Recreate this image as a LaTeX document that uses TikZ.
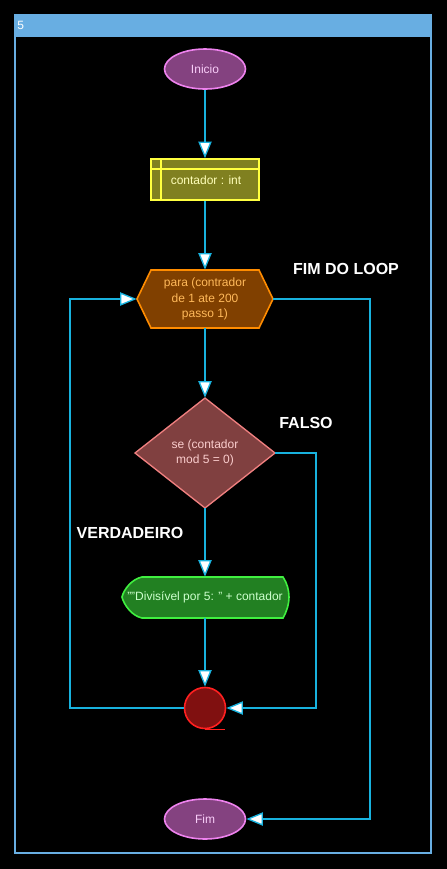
\documentclass[tikz,border=0pt]{standalone}
\usepackage{fontspec}
\setmainfont{Liberation Sans}
\usetikzlibrary{arrows.meta,shapes.geometric}
\definecolor{bar}{RGB}{104,174,226}
\definecolor{flowc}{RGB}{24,178,222}
\definecolor{termfill}{RGB}{132,66,128}
\definecolor{termdraw}{RGB}{238,130,238}
\definecolor{termtext}{RGB}{248,205,248}
\definecolor{declfill}{RGB}{128,128,32}
\definecolor{decldraw}{RGB}{255,255,64}
\definecolor{decltext}{RGB}{255,255,185}
\definecolor{loopfill}{RGB}{128,64,0}
\definecolor{loopdraw}{RGB}{255,140,0}
\definecolor{looptext}{RGB}{255,185,90}
\definecolor{condfill}{RGB}{128,64,64}
\definecolor{conddraw}{RGB}{240,128,128}
\definecolor{condtext}{RGB}{250,205,205}
\definecolor{outfill}{RGB}{34,128,34}
\definecolor{outdraw}{RGB}{64,240,64}
\definecolor{outtext}{RGB}{205,255,205}
\definecolor{connfill}{RGB}{128,16,16}
\definecolor{conndraw}{RGB}{255,32,32}
\tikzset{
  basefont/.style={font=\fontsize{9}{11.5}\selectfont, align=center, inner sep=0pt},
  term/.style={basefont, ellipse, draw=termdraw, fill=termfill, text=termtext, line width=1.2pt, minimum width=60.75pt, minimum height=30pt},
  declbox/.style={basefont, rectangle, draw=decldraw, fill=declfill, text=decltext, line width=1.2pt, minimum width=81pt, minimum height=30.75pt},
  shapetext/.style={basefont, rectangle},
  conn/.style={circle, draw=conndraw, fill=connfill, line width=1.2pt, minimum size=30.75pt, inner sep=0pt},
  flow/.style={draw=flowc, line width=1.5pt, -{Triangle[width=10pt,length=12.5pt,fill=white,line width=1pt]}},
  lbl/.style={font=\fontsize{12}{14}\selectfont\bfseries, text=white, inner sep=0pt},
}
\begin{document}
\begin{tikzpicture}[x=0.75pt,y=-0.75pt]
\fill[black] (0,0) rectangle (447,869);
\useasboundingbox (0,0) rectangle (447,869);
% frame
\fill[bar] (15,15) rectangle (431,37);
\draw[bar, line width=0.9pt] (15,15) rectangle (431,853);
\node[anchor=west, text=white, font=\fontsize{9}{11}\selectfont, inner sep=0pt] (title) at (17,25) {5};
% start
\node[term] (ini) at (205,69) {Inicio};
% declaration
\node[declbox] (dec) at (205,179.5) {};
\draw[decldraw, line width=1.2pt] (161,159) -- (161,200) (151,169) -- (259,169);
\node[shapetext, text=decltext] (dectext) at (206,180) {contador : int};
% loop hexagon
\draw[draw=loopdraw, fill=loopfill, line width=1.2pt] (137,299) -- (151,270) -- (259,270) -- (273,299) -- (259,328) -- (151,328) -- cycle;
\node[shapetext, text=looptext, minimum width=102pt, minimum height=43.5pt] (loop) at (205,299) {para (contrador\\de 1 ate 200\\passo 1)};
% condition diamond
\draw[draw=conddraw, fill=condfill, line width=1pt] (205,398) -- (275,453) -- (205,508) -- (135,453) -- cycle;
\node[shapetext, text=condtext, minimum width=105pt, minimum height=82.5pt] (cond) at (205,453) {se (contador\\mod 5 = 0)};
% output
\draw[draw=outdraw, fill=outfill, line width=1.2pt] (142,577) -- (283,577) .. controls (287,583) and (289,590) .. (289,597) .. controls (289,604) and (287,611) .. (283,618) -- (142,618) .. controls (132,616) and (124,605) .. (122,597) .. controls (124,589) and (132,579) .. (142,577) -- cycle;
\node[shapetext, text=outtext, minimum width=125.25pt, minimum height=30.75pt] (out) at (205,597.5) {""Divisível por 5: " + contador};
% connector
\node[conn] (c) at (205,708) {};
\draw[conndraw, line width=1.2pt] (c.south) -- ++(20,0);
% end
\node[term] (fim) at (205,819) {Fim};
% flows
\draw[flow] (ini) -- (dec);
\draw[flow] (dec) -- (loop);
\draw[flow] (loop) -- (cond.north);
\draw[flow] (cond.south) -- (out);
\draw[flow] (out) -- (c);
\draw[flow] (cond.east) -- (316,453) -- (316,708) -- (c.east);
\draw[flow] (c.west) -- (70,708) -- (70,299) -- (loop.west);
\draw[flow] (loop.east) -- (370,299) -- (370,819) -- (fim.east);
% labels
\node[lbl] (l1) at (346,269) {FIM DO LOOP};
\node[lbl] (l2) at (306,423) {FALSO};
\node[lbl] (l3) at (130,533) {VERDADEIRO};
\end{tikzpicture}
\end{document}
